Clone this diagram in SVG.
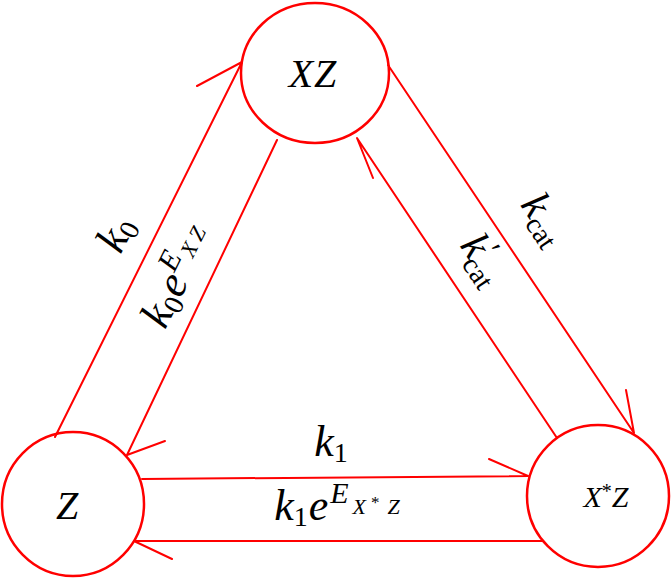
<svg xmlns="http://www.w3.org/2000/svg" width="671" height="578" viewBox="0 0 671 578">
<style>
.node{fill:none;stroke:#f00;stroke-width:2.5}
.edge{fill:none;stroke:#f00;stroke-width:2;stroke-linecap:round;stroke-linejoin:round}
text{font-family:'Liberation Serif','DejaVu Serif',serif;font-style:italic;fill:#000}
.up{font-style:normal}
</style>
<rect width="671" height="578" fill="#fff"/>
<g id="connectors">
<path class="edge" d="M55,437 L242,62 M197,86 L242,62"/>
<path class="edge" d="M277,140 L127,455 M165,441 L127,455"/>
<path class="edge" d="M388,65 L634,433 M626,390 L634,433"/>
<path class="edge" d="M557,438 L357,138 L373,178"/>
<path class="edge" d="M142,479 L528,476 M489,459 L528,476"/>
<path class="edge" d="M543,541 L134,541 M172,559 L134,541"/>
</g>
<g id="node-XZ">
<ellipse class="node" cx="315" cy="73" rx="74" ry="70"/>
<text x="313" y="87" font-size="40" text-anchor="middle" letter-spacing="1">XZ</text>
</g>
<g id="node-Z">
<ellipse class="node" cx="73" cy="504" rx="71" ry="72"/>
<text x="67" y="519" font-size="40" text-anchor="middle">Z</text>
</g>
<g id="node-XsZ">
<ellipse class="node" cx="598" cy="496" rx="71" ry="71"/>
<text x="606" y="507" font-size="30" text-anchor="middle">X<tspan font-size="20" font-style="normal" dy="-9">*</tspan><tspan dy="9">Z</tspan></text>
</g>
<g id="labels">
<text transform="translate(128,240) rotate(-63.5)" font-size="44" text-anchor="middle">k<tspan class="up" font-size="28" dy="6">0</tspan></text>
<text transform="translate(190,280) rotate(-63.5)" font-size="44" text-anchor="middle">k<tspan class="up" font-size="28" dy="6">0</tspan><tspan dx="1" dy="-6">e</tspan><tspan font-size="30" dx="1" dy="-17">E</tspan><tspan font-size="22" dx="3" dy="10" letter-spacing="5">XZ</tspan></text>
<text transform="translate(534,226) rotate(56.2)" font-size="42" text-anchor="middle">k<tspan class="up" font-size="28" dy="7">cat</tspan></text>
<text transform="translate(473,266) rotate(56.2)" font-size="42" text-anchor="middle">k<tspan class="up" font-size="32" dy="-12">′</tspan><tspan class="up" font-size="28" dx="-9" dy="21">cat</tspan></text>
<text x="331" y="456" font-size="44" text-anchor="middle">k<tspan class="up" font-size="28" dy="6">1</tspan></text>
<text x="337" y="520" font-size="44" text-anchor="middle">k<tspan class="up" font-size="28" dy="6">1</tspan><tspan dx="1" dy="-6">e</tspan><tspan font-size="30" dx="2" dy="-17">E</tspan><tspan font-size="22" dx="4" dy="11">X</tspan><tspan font-size="17" font-style="normal" dx="5" dy="-6">*</tspan><tspan font-size="22" dx="8" dy="6">Z</tspan></text>
</g>
</svg>
